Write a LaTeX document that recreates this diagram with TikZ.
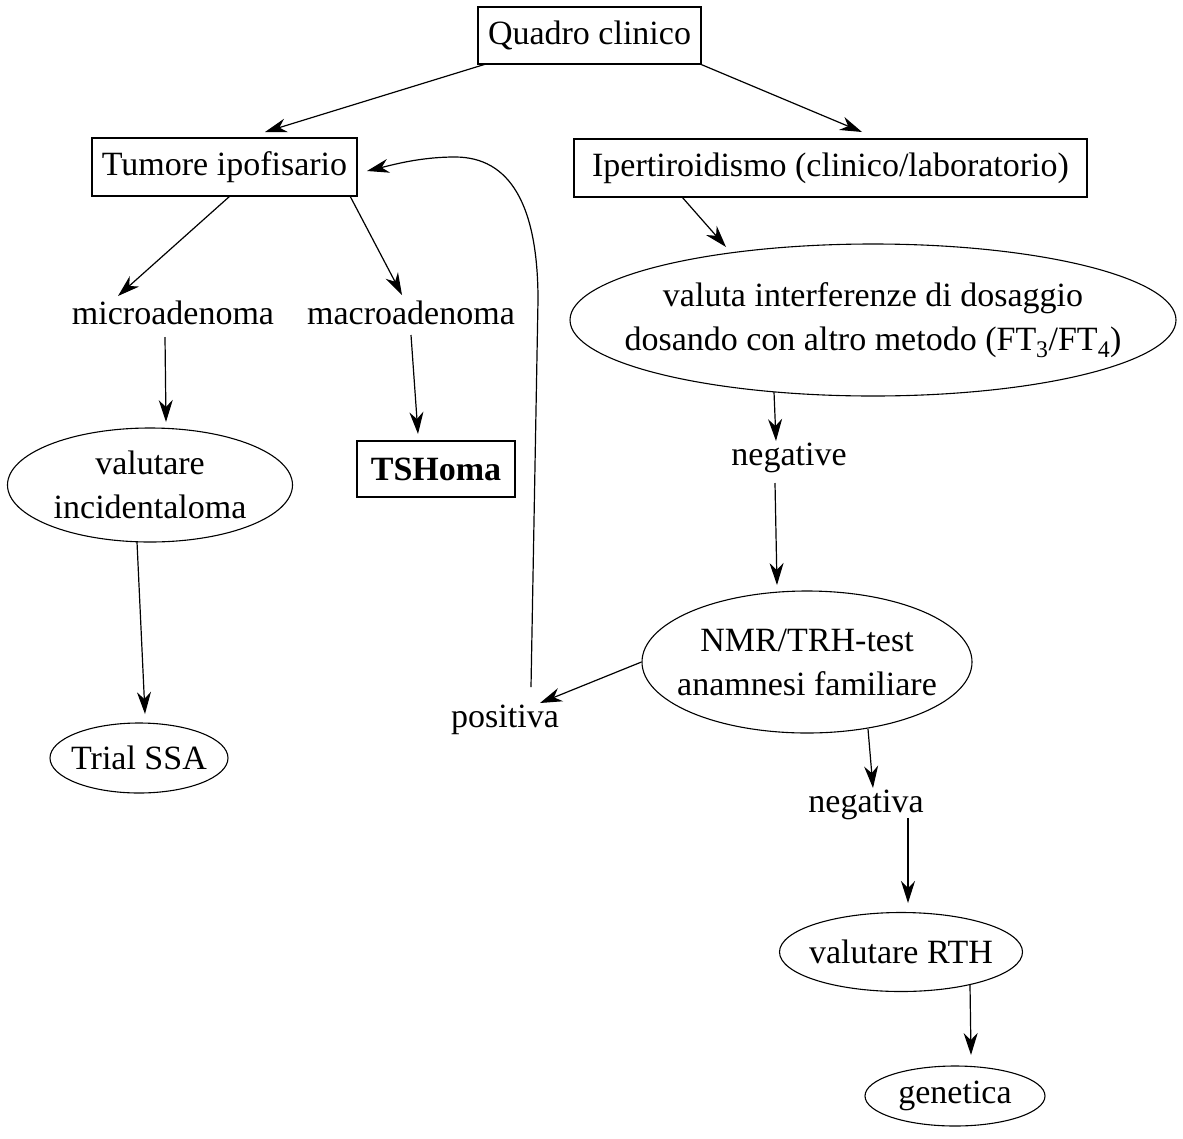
\documentclass[tikz,border=0pt]{standalone}
\usepackage{fontspec}
\setmainfont{Liberation Serif}
\usetikzlibrary{shapes.geometric,arrows.meta,calc}

\begin{document}
\begin{tikzpicture}[x=1pt,y=-1pt,
  every node/.style={font=\fontsize{34}{44}\selectfont, align=center, inner sep=0pt},
  box/.style={draw, line width=1.2pt, rectangle},
  oval/.style={draw, line width=1.1pt, ellipse},
  arr/.style={line width=1.2pt, -{Stealth[length=22pt,width=14pt,inset=7pt]}}]
\useasboundingbox (0,0) rectangle (1183,1138);

% boxes
\node[box, minimum width=223pt, minimum height=57pt] (quadro) at (589.5,35.5) {Quadro clinico};
\node[box, minimum width=265pt, minimum height=58pt] (tum) at (224.5,167) {Tumore ipofisario};
\node[box, minimum width=513pt, minimum height=58pt] (iper) at (830.5,168) {Ipertiroidismo (clinico/laboratorio)};
\node[box, minimum width=158pt, minimum height=56pt] (tsh) at (436,469) {\bfseries TSHoma};

% plain labels
\node (micro) at (173,313) {microadenoma};
\node (macro) at (411,313) {macroadenoma};
\node (negative) at (789,458) {negative};
\node (positiva) at (505,720) {positiva};
\node (negativa) at (866,805) {negativa};

% ellipses: fixed outline, text set as a centred label
\node[oval, minimum width=606pt, minimum height=152pt,
  label={center:{valuta interferenze di dosaggio\\dosando con altro metodo (FT\textsubscript{3}/FT\textsubscript{4})}}]
  (valuta) at (873,320) {};
\node[oval, minimum width=285pt, minimum height=114pt,
  label={center:{valutare\\incidentaloma}}] (incid) at (150,485) {};
\node[oval, minimum width=330pt, minimum height=142pt,
  label={center:{NMR/TRH-test\\anamnesi familiare}}] (nmr) at (807,662) {};
\node[oval, minimum width=178pt, minimum height=70pt,
  label={center:{Trial SSA}}] (trial) at (139,758) {};
\node[oval, minimum width=243pt, minimum height=79pt,
  label={center:{valutare RTH}}] (rth) at (901,952) {};
\node[oval, minimum width=180pt, minimum height=60pt,
  label={center:{genetica}}] (genetica) at (955,1096) {};

% connectors
\draw[arr] ($(quadro.center)+(-103.5,28.5)$) -- ($(tum.center)+(40.5,-35)$);
\draw[arr] ($(quadro.center)+(110.5,28.5)$) -- ($(iper.center)+(31.5,-36)$);
\draw[arr] ($(tum.center)+(5.5,29)$) -- ($(micro.center)+(-55,-17)$);
\draw[arr] ($(tum.center)+(125.5,29)$) -- ($(macro.center)+(-9,-18)$);
\draw[arr] ($(iper.center)+(-148.5,29)$) -- ($(valuta.center)+(-147,-73)$);
\draw[arr] ($(micro.center)+(-8,24)$) -- ($(incid.center)+(16,-63)$);
\draw[arr] ($(macro.center)+(0,22)$) -- ($(tsh.center)+(-18,-35)$);
\draw[arr] ($(incid.center)+(-13,57)$) -- ($(trial.center)+(6,-44)$);
\draw[arr] ($(valuta.center)+(-99,72)$) -- ($(negative.center)+(-13,-17)$);
\draw[arr] ($(negative.center)+(-14,25)$) -- ($(nmr.center)+(-30,-77)$);
\draw[arr] (nmr.west) -- ($(positiva.center)+(35,-17)$);
\draw[arr] ($(positiva.center)+(26,-33)$) -- (538,300)
  .. controls (538,205) and (510,157) .. (455,157)
  .. controls (420,157) and (392,165) .. ($(tum.center)+(142.5,4)$);
\draw[arr] ($(nmr.center)+(61,67)$) -- ($(negativa.center)+(7,-17)$);
\draw[arr] ($(negativa.center)+(42,13)$) -- ($(rth.center)+(7,-49)$);
\draw[arr] ($(rth.center)+(69,33)$) -- ($(genetica.center)+(16,-41)$);
\end{tikzpicture}
\end{document}
